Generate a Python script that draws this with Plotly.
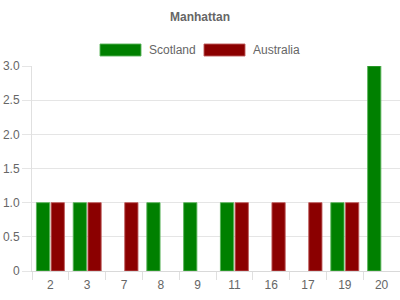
import plotly.graph_objects as go

categories = ["2", "3", "7", "8", "9", "11", "16", "17", "19", "20"]
scotland = [1, 1, 0, 1, 1, 1, 0, 0, 1, 3]
australia = [1, 1, 1, 0, 0, 1, 1, 1, 1, 0]
series_names = ["Scotland", "Australia"]
fill_colors = ["#008000", "#8b0000"]
line_colors = ["rgba(90,180,90,0.9)", "rgba(190,90,90,0.9)"]
ytick_vals = [0, 0.5, 1.0, 1.5, 2.0, 2.5, 3.0]
ytick_text = ["0", "0.5", "1.0", "1.5", "2.0", "2.5", "3.0"]

FONT = "Liberation Sans, Arial, Helvetica, sans-serif"
TXT = "#666666"

fig = go.Figure()
for name, vals, fc, lc in zip(series_names, [scotland, australia], fill_colors, line_colors):
    fig.add_trace(go.Bar(x=categories, y=vals, name=name,
                         marker=dict(color=fc, line=dict(color=lc, width=[1 if v else 0 for v in vals])),
                         showlegend=False))

# custom legend (Chart.js style wide boxes)
legend_items = [(100, 141, 147), (204, 245, 251)]
for (x0, x1, tx), name, fc, lc in zip(legend_items, series_names, fill_colors, line_colors):
    fig.add_shape(type="rect", xref="paper", yref="paper",
                  x0=(x0 - 32) / 368, x1=(x1 - 32) / 368,
                  y0=(271 - 56) / 205, y1=(271 - 44) / 205,
                  fillcolor=fc, line=dict(color=lc, width=1))
    fig.add_annotation(text=name, xref="paper", yref="paper", x=(tx - 32) / 368, y=(271 - 50) / 205,
                       xanchor="left", yanchor="middle", showarrow=False,
                       font=dict(family=FONT, size=12, color=TXT))

fig.update_layout(
    width=400, height=300,
    margin=dict(l=32, r=0, t=66, b=29),
    paper_bgcolor="white", plot_bgcolor="white",
    title=dict(text="<b>Manhattan</b>", x=0.5, xanchor="center", y=1 - 17 / 300, yanchor="middle",
               font=dict(family=FONT, size=12, color=TXT)),
    barmode="group", bargap=0.2, bargroupgap=0.1,
    font=dict(family=FONT, size=12, color=TXT),
)
fig.update_xaxes(type="category", showgrid=False, showline=True, linecolor="#d9d9d9", linewidth=1,
                 ticks="outside", tickson="boundaries", ticklen=8, tickcolor="#e0e0e0",
                 ticklabelstandoff=3,
                 tickfont=dict(family=FONT, size=12, color=TXT))
fig.update_yaxes(range=[0, 3], tickvals=ytick_vals, ticktext=ytick_text, showgrid=True,
                 gridcolor="#e5e5e5", zeroline=False, showline=True, linecolor="#e0e0e0",
                 ticks="outside", ticklen=9, tickcolor="#e5e5e5",
                 tickfont=dict(family=FONT, size=12, color=TXT))

fig.write_html("out.html")
